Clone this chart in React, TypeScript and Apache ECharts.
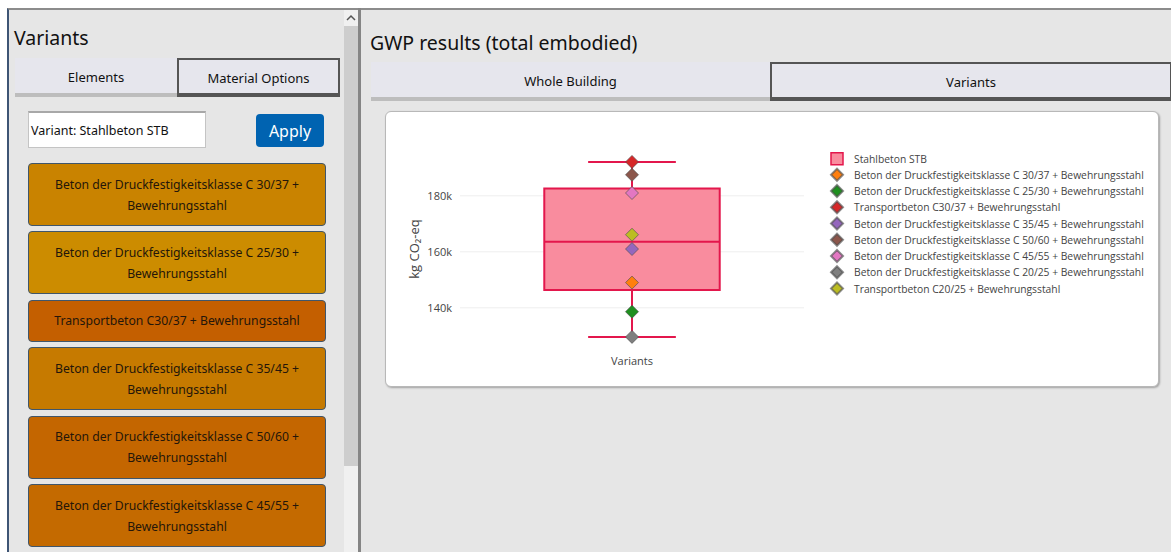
import React, { useEffect, useRef } from "react";
import * as echarts from "echarts";

// ---------- data ----------
const boxName = "Stahlbeton STB";
const variantNames = [
  "Beton der Druckfestigkeitsklasse C 30/37 + Bewehrungsstahl",
  "Beton der Druckfestigkeitsklasse C 25/30 + Bewehrungsstahl",
  "Transportbeton C30/37 + Bewehrungsstahl",
  "Beton der Druckfestigkeitsklasse C 35/45 + Bewehrungsstahl",
  "Beton der Druckfestigkeitsklasse C 50/60 + Bewehrungsstahl",
  "Beton der Druckfestigkeitsklasse C 45/55 + Bewehrungsstahl",
  "Beton der Druckfestigkeitsklasse C 20/25 + Bewehrungsstahl",
  "Transportbeton C20/25 + Bewehrungsstahl",
];
const variantValues = [149000, 138600, 192100, 161000, 187500, 181000, 129600, 166100];
// min, q1, median, q3, max
const boxStats = [129600, 146400, 163600, 182600, 192100];
const xCategories = ["Variants"];
const yGridTicks = [140000, 160000, 180000];

// ---------- styles ----------
const markerColors = ["#ff7f0e", "#1f8f1f", "#d62728", "#9467bd", "#8c564b", "#e377c2", "#7f7f7f", "#bcbd22"];
const cardColors = ["#c98300", "#cc8c00", "#c45f00", "#c67a00", "#c46600", "#c46a00"];
const boxLine = "#e3174c";
const boxFill = "#f98c9e";
const uiFont = "'Noto Sans', 'Open Sans', sans-serif";

function Chart() {
  const ref = useRef<HTMLDivElement>(null);
  useEffect(() => {
    if (!ref.current) return;
    const chart = echarts.init(ref.current, undefined, { renderer: "svg" });
    const option: any = {
      animation: false,
      textStyle: { fontFamily: "'Open Sans', sans-serif" },
      grid: { left: 75, top: 40, width: 344, height: 196 },
      xAxis: {
        type: "category",
        data: xCategories,
        axisLine: { show: false },
        axisTick: { show: false },
        axisLabel: { color: "#444", fontSize: 11, margin: 8 },
      },
      yAxis: {
        type: "value",
        min: 126000,
        max: 196000,
        interval: 2000,
        splitLine: { show: false },
        axisLine: { show: false },
        axisTick: { show: false },
        axisLabel: {
          color: "#444",
          fontSize: 11,
          margin: 8,
          formatter: (v: number) => (yGridTicks.indexOf(v) >= 0 ? v / 1000 + "k" : ""),
        },
        name: "kg CO₂-eq",
        nameLocation: "middle",
        nameGap: 40,
        nameTextStyle: { color: "#444", fontSize: 13 },
      },
      legend: {
        orient: "vertical",
        left: 445,
        top: 41,
        padding: 0,
        itemWidth: 12,
        itemHeight: 12,
        itemGap: 2.25,
        textStyle: { color: "#444", fontSize: 10.3, padding: [0, 0, 0, 6] },
        data: [
          { name: boxName, icon: "rect", itemStyle: { color: boxFill, borderColor: boxLine, borderWidth: 1.5 } },
          ...variantNames.map((n) => ({ name: n })),
        ],
      },
      series: [
        {
          name: "gridlines",
          type: "custom",
          z: 1,
          silent: true,
          encode: { x: 0, y: 1 },
          data: yGridTicks.map((v) => [0, v]),
          renderItem: (params: any, api: any) => {
            const p = api.coord([api.value(0), api.value(1)]);
            const cs = params.coordSys;
            return {
              type: "line",
              shape: { x1: cs.x, y1: p[1], x2: cs.x + cs.width, y2: p[1] },
              style: { stroke: "#eeeeee", lineWidth: 1 },
            };
          },
        },
        {
          name: boxName,
          type: "custom",
          z: 3,
          itemStyle: { color: boxFill, borderColor: boxLine },
          encode: { x: 0, y: [1, 2, 3, 4, 5] },
          data: [[0, ...boxStats]],
          renderItem: (params: any, api: any) => {
            const xi = api.value(0);
            const pMin = api.coord([xi, api.value(1)]);
            const pQ1 = api.coord([xi, api.value(2)]);
            const pMed = api.coord([xi, api.value(3)]);
            const pQ3 = api.coord([xi, api.value(4)]);
            const pMax = api.coord([xi, api.value(5)]);
            const band = api.size([1, 0])[0];
            const bw = band * 0.51;
            const cw = bw / 2;
            const cx = pMed[0];
            const ls = { stroke: boxLine, lineWidth: 2 };
            return {
              type: "group",
              children: [
                { type: "line", shape: { x1: cx, y1: pMin[1], x2: cx, y2: pQ1[1] }, style: ls },
                { type: "line", shape: { x1: cx, y1: pQ3[1], x2: cx, y2: pMax[1] }, style: ls },
                { type: "line", shape: { x1: cx - cw / 2, y1: pMin[1], x2: cx + cw / 2, y2: pMin[1] }, style: ls },
                { type: "line", shape: { x1: cx - cw / 2, y1: pMax[1], x2: cx + cw / 2, y2: pMax[1] }, style: ls },
                {
                  type: "rect",
                  shape: { x: cx - bw / 2, y: pQ3[1], width: bw, height: pQ1[1] - pQ3[1] },
                  style: { fill: boxFill, stroke: boxLine, lineWidth: 2 },
                },
                { type: "line", shape: { x1: cx - bw / 2, y1: pMed[1], x2: cx + bw / 2, y2: pMed[1] }, style: ls },
              ],
            };
          },
        },
        ...variantNames.map((n, i) => ({
          name: n,
          type: "scatter",
          z: 4,
          symbol: "diamond",
          symbolSize: 13,
          itemStyle: { color: markerColors[i], borderColor: "rgba(80,80,80,0.65)", borderWidth: 1, opacity: 1 },
          data: [[xCategories[0], variantValues[i]]],
        })),
      ],
    };
    chart.setOption(option);
    return () => chart.dispose();
  }, []);
  return <div ref={ref} style={{ position: "absolute", left: 0, top: 0, width: 773, height: 275 }} />;
}

const abs = (s: React.CSSProperties): React.CSSProperties => ({ position: "absolute", boxSizing: "border-box", ...s });

export default function App() {
  const shown = variantNames.slice(0, 6);
  const cardHeights = shown.map((n) => (n.startsWith("Transportbeton") ? 42 : 63));
  let y = 163;
  const cardTops = cardHeights.map((h) => {
    const t = y;
    y += h + 5.4;
    return t;
  });
  const tabText: React.CSSProperties = { fontSize: 13, display: "flex", alignItems: "center", justifyContent: "center", paddingTop: 2 };
  return (
    <div style={abs({ left: 0, top: 0, width: 1171, height: 552, background: "#ffffff", overflow: "hidden", fontFamily: uiFont, color: "#111" })}>
      {/* left panel */}
      <div style={abs({ left: 7, top: 8, width: 352, height: 544, background: "#e6e6e6", borderTop: "2px solid #8c8c8c", borderLeft: "2px solid #3e5575" })} />
      <div style={abs({ left: 14, top: 24, fontSize: 19.5, lineHeight: "28px", color: "#111" })}>Variants</div>
      <div style={abs({ left: 15, top: 58, width: 162, height: 39, background: "#e6e6ed", borderBottom: "4px solid #bdbdbd", ...tabText })}>Elements</div>
      <div style={abs({ left: 177, top: 58, width: 163, height: 39, background: "#e6e6ed", border: "2px solid #555", borderBottom: "4px solid #555", ...tabText })}>Material Options</div>
      <div style={abs({ left: 28, top: 111, width: 178, height: 37, background: "#fff", border: "1px solid #c4c4c4", borderTop: "2px solid #a8a8a8", fontSize: 12.5, display: "flex", alignItems: "center", paddingLeft: 2 })}>Variant: Stahlbeton STB</div>
      <div style={abs({ left: 256, top: 114, width: 68, height: 33, background: "#0063b1", borderRadius: 4, color: "#fff", fontSize: 16, display: "flex", alignItems: "center", justifyContent: "center" })}>Apply</div>
      {cardTops.map((t, i) => (
        <div key={i} style={abs({ left: 28, top: t, width: 298, height: cardHeights[i], background: cardColors[i], border: "1.5px solid #40566b", borderRadius: 4, color: "#24160a", fontSize: 12.2, lineHeight: "21px", padding: "0 18px", display: "flex", alignItems: "center", justifyContent: "center", textAlign: "center" })}>
          {shown[i]}
        </div>
      ))}
      {/* scrollbar */}
      <div style={abs({ left: 344, top: 10, width: 14, height: 542, background: "#f0f0f0" })} />
      <div style={abs({ left: 344, top: 26, width: 14, height: 440, background: "#cdcdcd" })} />
      <svg style={{ position: "absolute", left: 345, top: 13, width: 12, height: 10 }}>
        <polyline points="2,7 6,3 10,7" fill="none" stroke="#555" strokeWidth="1.5" />
      </svg>
      {/* divider */}
      <div style={abs({ left: 358, top: 8, width: 3, height: 544, background: "#858585" })} />
      {/* right panel */}
      <div style={abs({ left: 361, top: 8, width: 810, height: 544, background: "#e6e6e6", borderTop: "2px solid #8c8c8c" })} />
      <div style={abs({ left: 370, top: 29, fontSize: 19.5, lineHeight: "28px", color: "#111" })}>GWP results (total embodied)</div>
      <div style={abs({ left: 371, top: 62, width: 399, height: 39, background: "#e6e6ed", borderBottom: "4px solid #bdbdbd", ...tabText })}>Whole Building</div>
      <div style={abs({ left: 770, top: 62, width: 402, height: 39, background: "#e6e6ed", border: "2px solid #555", borderBottom: "4px solid #555", ...tabText })}>Variants</div>
      {/* chart card */}
      <div style={abs({ left: 385, top: 111, width: 774, height: 276, background: "#fff", border: "1px solid #b8b8b8", borderRadius: 6, boxShadow: "1px 1px 2px rgba(0,0,0,0.3)" })} />
      <div style={abs({ left: 385, top: 111, width: 773, height: 275 })}>
        <Chart />
      </div>
    </div>
  );
}
